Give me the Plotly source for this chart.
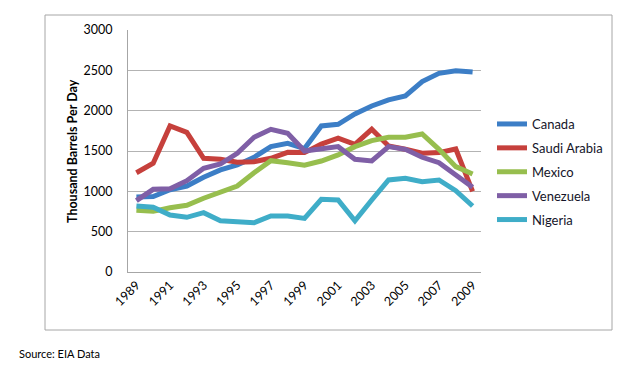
import plotly.graph_objects as go

years = list(range(1989, 2010))
tick_years = list(range(1989, 2010, 2))

canada = [930, 935, 1020, 1066, 1174, 1265, 1327, 1422, 1554, 1596, 1530, 1810, 1831, 1959, 2058, 2133, 2182, 2360, 2463, 2496, 2480]
saudi_arabia = [1230, 1348, 1810, 1732, 1410, 1397, 1360, 1368, 1410, 1484, 1480, 1585, 1658, 1583, 1769, 1562, 1521, 1472, 1480, 1525, 1000]
mexico = [765, 752, 797, 827, 914, 983, 1066, 1231, 1380, 1355, 1325, 1376, 1451, 1554, 1628, 1670, 1670, 1711, 1521, 1306, 1215]
venezuela = [884, 1025, 1033, 1132, 1286, 1339, 1472, 1670, 1769, 1720, 1500, 1534, 1554, 1397, 1376, 1554, 1521, 1422, 1355, 1203, 1050]
nigeria = [818, 802, 707, 678, 736, 636, 624, 611, 694, 694, 665, 901, 893, 636, 893, 1141, 1162, 1120, 1141, 1008, 818]

series = [
    ("Canada", canada, "#3C7EC6"),
    ("Saudi Arabia", saudi_arabia, "#C6403C"),
    ("Mexico", mexico, "#97BE4E"),
    ("Venezuela", venezuela, "#7F5FA6"),
    ("Nigeria", nigeria, "#3FADC8"),
]

FONT = "Lato, 'Open Sans', sans-serif"

fig = go.Figure()
for name, vals, color in series:
    fig.add_trace(go.Scatter(
        x=years, y=vals, name=name, mode="lines",
        line=dict(color=color, width=5),
        legendgroup=name,
    ))

# page body adds an 8px offset; work in window pixel coords and compensate
OFF = 8
W, H = 644 - OFF, 372 - OFF
L, R, T, B = 128 - OFF, 644 - 481, 30 - OFF, 372 - 272
pw, ph = W - L - R, H - T - B

def px_x(x):
    return (x - OFF - L) / pw

def px_y(y):
    return (H - B - (y - OFF)) / ph

fig.update_layout(
    width=W, height=H,
    margin=dict(l=L, r=R, t=T, b=B),
    paper_bgcolor="white", plot_bgcolor="white",
    font=dict(family=FONT, size=12, color="#000000"),
    showlegend=True,
    legend=dict(
        x=px_x(492), xanchor="left",
        y=px_y(109), yanchor="top",
        font=dict(family=FONT, size=13, color="#141428"),
        tracegroupgap=4,
        bgcolor="rgba(0,0,0,0)",
    ),
    xaxis=dict(
        range=[1988.5, 2009.5],
        tickvals=tick_years,
        ticktext=[str(y) for y in tick_years],
        tickangle=-45,
        showgrid=False,
        showline=True, linecolor="#A6A6A6", linewidth=1,
        ticks="", tickfont=dict(family=FONT, size=12.5, color="#000000"),
        zeroline=False,
    ),
    yaxis=dict(
        range=[0, 3000],
        tickvals=[0, 500, 1000, 1500, 2000, 2500, 3000],
        showgrid=True, gridcolor="#B3B3B3", gridwidth=1,
        showline=True, linecolor="#A6A6A6", linewidth=1,
        ticks="", ticklabelstandoff=12,
        tickfont=dict(family=FONT, size=12.5, color="#000000"),
        zeroline=False,
    ),
    shapes=[dict(
        type="rect", xref="paper", yref="paper",
        x0=px_x(45), x1=px_x(612), y0=px_y(330), y1=px_y(15),
        line=dict(color="#A6A6A6", width=1), fillcolor="rgba(0,0,0,0)",
        layer="below",
    )],
    annotations=[
        dict(
            text="<b>Thousand Barrels Per Day</b>", textangle=-90,
            xref="paper", yref="paper", x=px_x(72), y=0.5,
            xanchor="center", yanchor="middle", showarrow=False,
            font=dict(family=FONT, size=12.5, color="#000000"),
        ),
        dict(
            text="Source: EIA Data",
            xref="paper", yref="paper", x=px_x(17), y=px_y(353),
            xanchor="left", yanchor="middle", showarrow=False,
            font=dict(family=FONT, size=11, color="#000000"),
        ),
    ],
)

fig.write_html("out.html")
